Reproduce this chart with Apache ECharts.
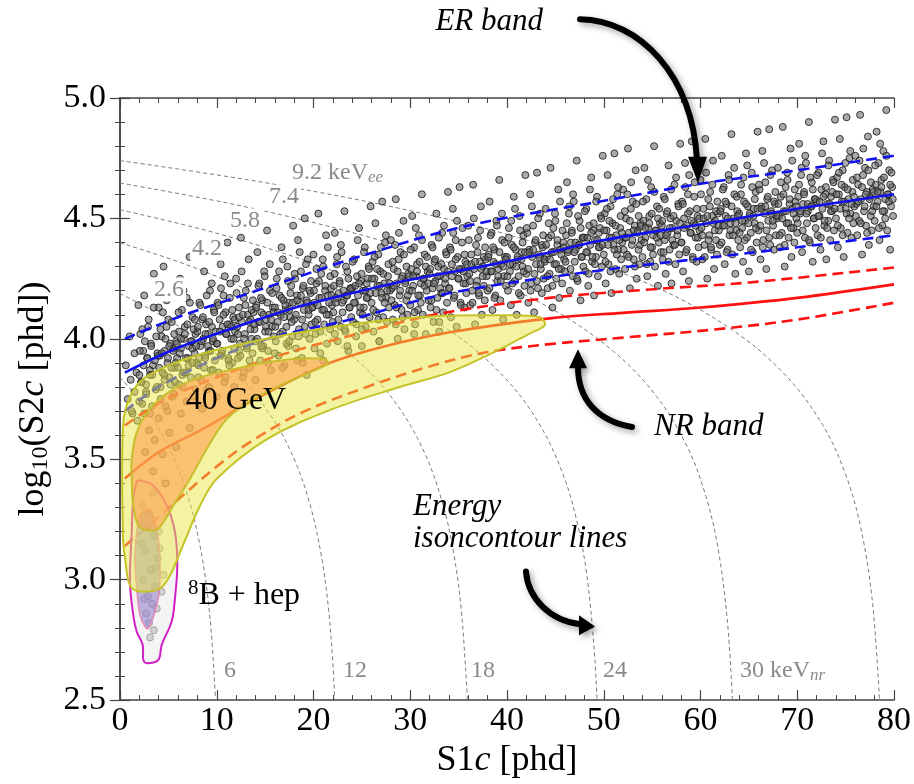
<!DOCTYPE html>
<html>
<head>
<meta charset="utf-8">
<script src="https://cdn.jsdelivr.net/npm/echarts@6/dist/echarts.min.js"></script>
<style>html,body{margin:0;padding:0;background:#fff}#chart{width:914px;height:784px}</style>
</head>
<body>
<div id="chart"></div>
<script>
// ---- ER calibration events: [S1c, log10(S2c)] ----
const erEvents = [
[0.6,3.89],[0.8,3.75],[1.0,4.01],[1.1,3.83],[1.3,3.69],[1.5,3.94],[1.7,3.86],[1.9,4.14],
[2.0,3.85],[2.1,4.02],[2.3,3.73],[2.4,3.95],[2.5,4.18],[2.7,3.81],[2.8,3.92],[2.9,4.05],[3.1,3.69],[3.2,3.98],[3.4,3.89],[3.5,4.27],[3.7,3.79],[3.9,3.93],
[4.0,4.13],[4.1,3.93],[4.2,3.80],[4.3,4.01],[4.4,3.86],[4.5,4.30],[4.6,3.95],[4.7,3.72],[4.8,4.05],[4.9,3.90],[5.0,4.08],[5.1,3.84],[5.2,3.98],[5.3,4.21],[5.4,3.76],[5.5,3.96],[5.6,3.88],[5.7,3.82],[5.8,3.99],[5.9,3.92],
[6.0,3.88],[6.1,4.03],[6.2,4.25],[6.3,3.96],[6.4,4.12],[6.5,3.80],[6.6,4.00],[6.7,4.05],[6.8,3.86],[6.9,4.17],[7.0,3.92],[7.1,3.97],[7.2,4.34],[7.3,3.84],[7.4,3.99],[7.5,4.09],[7.6,3.76],[7.7,3.94],[7.8,4.02],[7.9,3.90],
[8.0,4.03],[8.1,3.89],[8.2,4.15],[8.3,3.97],[8.4,3.83],[8.5,4.08],[8.6,4.00],[8.7,4.28],[8.8,3.93],[8.9,4.06],[9.0,3.79],[9.1,4.02],[9.2,3.95],[9.3,4.20],[9.4,3.87],[9.5,4.05],[9.6,3.99],[9.7,4.12],[9.8,3.91],[9.9,4.37],
[10.0,3.98],[10.1,4.15],[10.2,3.86],[10.3,4.08],[10.4,4.31],[10.5,3.94],[10.6,4.05],[10.7,4.18],[10.8,3.82],[10.9,4.11],[11.0,4.02],[11.1,4.40],[11.2,3.92],[11.3,4.06],[11.4,4.23],[11.5,4.00],[11.6,3.90],[11.7,4.09],[11.8,3.96],[11.9,4.03],
[12.0,4.25],[12.1,4.05],[12.2,3.92],[12.3,4.13],[12.4,3.98],[12.5,4.42],[12.6,4.07],[12.7,3.84],[12.8,4.17],[12.9,4.02],[13.0,4.20],[13.1,3.96],[13.2,4.10],[13.3,4.33],[13.4,3.88],[13.5,4.08],[13.6,4.00],[13.7,3.94],[13.8,4.11],[13.9,4.04],
[14.0,3.99],[14.1,4.14],[14.2,4.36],[14.3,4.07],[14.4,4.23],[14.5,3.91],[14.6,4.11],[14.7,4.16],[14.8,3.97],[14.9,4.28],[15.0,4.03],[15.1,4.08],[15.2,4.45],[15.3,3.95],[15.4,4.10],[15.5,4.20],[15.6,3.87],[15.7,4.05],[15.8,4.13],[15.9,4.01],
[16.0,4.13],[16.1,3.99],[16.2,4.25],[16.3,4.07],[16.4,3.93],[16.5,4.18],[16.6,4.10],[16.7,4.38],[16.8,4.03],[16.9,4.16],[17.0,3.89],[17.1,4.12],[17.2,4.05],[17.3,4.30],[17.4,3.97],[17.5,4.15],[17.6,4.09],[17.7,4.22],[17.8,4.01],[17.9,4.47],
[18.0,4.08],[18.1,4.25],[18.2,3.96],[18.3,4.18],[18.4,4.41],[18.5,4.04],[18.6,4.15],[18.7,4.28],[18.8,3.92],[18.9,4.21],[19.0,4.12],[19.1,4.50],[19.2,4.02],[19.3,4.16],[19.4,4.33],[19.5,4.10],[19.6,4.00],[19.7,4.19],[19.8,4.06],[19.9,4.13],
[20.0,4.35],[20.1,4.15],[20.2,4.02],[20.3,4.23],[20.4,4.08],[20.5,4.52],[20.6,4.17],[20.7,3.94],[20.8,4.27],[20.9,4.12],[21.0,4.30],[21.1,4.06],[21.2,4.20],[21.3,4.43],[21.4,3.98],[21.5,4.18],[21.6,4.10],[21.7,4.04],[21.8,4.21],[21.9,4.14],
[22.0,4.07],[22.1,4.22],[22.2,4.44],[22.3,4.15],[22.4,4.31],[22.5,3.99],[22.6,4.19],[22.7,4.24],[22.8,4.05],[22.9,4.36],[23.0,4.11],[23.1,4.16],[23.2,4.53],[23.3,4.03],[23.4,4.18],[23.5,4.28],[23.6,3.95],[23.7,4.13],[23.8,4.21],[23.9,4.09],
[24.0,4.21],[24.1,4.07],[24.2,4.33],[24.3,4.15],[24.4,4.01],[24.5,4.26],[24.6,4.18],[24.7,4.46],[24.8,4.11],[24.9,4.24],[25.0,3.97],[25.1,4.20],[25.2,4.13],[25.3,4.38],[25.4,4.05],[25.5,4.23],[25.6,4.17],[25.7,4.30],[25.8,4.09],[25.9,4.55],
[26.0,4.15],[26.1,4.32],[26.2,4.03],[26.3,4.25],[26.4,4.48],[26.5,4.11],[26.6,4.22],[26.7,4.35],[26.8,3.99],[26.9,4.28],[27.0,4.19],[27.1,4.57],[27.2,4.09],[27.3,4.23],[27.4,4.40],[27.5,4.17],[27.6,4.07],[27.7,4.26],[27.8,4.13],[27.9,4.20],
[28.0,4.41],[28.1,4.21],[28.2,4.08],[28.3,4.29],[28.4,4.14],[28.5,4.58],[28.6,4.23],[28.7,4.00],[28.8,4.33],[28.9,4.18],[29.0,4.36],[29.1,4.12],[29.2,4.26],[29.3,4.49],[29.4,4.04],[29.5,4.24],[29.6,4.16],[29.7,4.10],[29.8,4.27],[29.9,4.20],
[30.0,4.14],[30.1,4.29],[30.2,4.51],[30.3,4.22],[30.4,4.38],[30.5,4.06],[30.6,4.26],[30.7,4.31],[30.8,4.12],[30.9,4.43],[31.0,4.18],[31.1,4.23],[31.2,4.60],[31.3,4.10],[31.4,4.25],[31.5,4.35],[31.6,4.02],[31.7,4.20],[31.8,4.28],[31.9,4.16],
[32.0,4.27],[32.1,4.13],[32.2,4.39],[32.3,4.21],[32.4,4.07],[32.5,4.32],[32.6,4.24],[32.7,4.52],[32.8,4.17],[32.9,4.30],[33.0,4.03],[33.1,4.26],[33.2,4.19],[33.3,4.44],[33.4,4.11],[33.5,4.29],[33.6,4.23],[33.7,4.36],[33.8,4.15],[33.9,4.61],
[34.0,4.21],[34.1,4.38],[34.2,4.09],[34.3,4.31],[34.4,4.54],[34.5,4.17],[34.6,4.28],[34.7,4.41],[34.8,4.05],[34.9,4.34],[35.0,4.25],[35.1,4.63],[35.2,4.15],[35.3,4.29],[35.4,4.46],[35.5,4.23],[35.6,4.13],[35.7,4.32],[35.8,4.19],[35.9,4.26],
[36.0,4.47],[36.1,4.27],[36.2,4.14],[36.3,4.35],[36.4,4.20],[36.5,4.64],[36.6,4.29],[36.7,4.06],[36.8,4.39],[36.9,4.24],[37.0,4.42],[37.1,4.18],[37.2,4.32],[37.3,4.55],[37.4,4.10],[37.5,4.30],[37.6,4.22],[37.7,4.16],[37.8,4.33],[37.9,4.26],
[38.0,4.20],[38.1,4.35],[38.2,4.57],[38.3,4.28],[38.4,4.44],[38.5,4.12],[38.6,4.32],[38.7,4.37],[38.8,4.18],[38.9,4.49],[39.0,4.24],[39.1,4.29],[39.2,4.66],[39.3,4.16],[39.4,4.31],[39.5,4.41],[39.6,4.08],[39.7,4.26],[39.8,4.34],[39.9,4.22],
[40.0,4.34],[40.1,4.20],[40.2,4.46],[40.3,4.28],[40.4,4.14],[40.5,4.39],[40.6,4.31],[40.7,4.59],[40.8,4.24],[40.9,4.37],[41.0,4.10],[41.1,4.33],[41.2,4.26],[41.3,4.51],[41.4,4.18],[41.5,4.36],[41.6,4.30],[41.7,4.43],[41.8,4.22],[41.9,4.68],
[42.0,4.27],[42.1,4.44],[42.2,4.15],[42.3,4.37],[42.4,4.60],[42.5,4.23],[42.6,4.34],[42.7,4.47],[42.8,4.11],[42.9,4.40],[43.0,4.31],[43.1,4.69],[43.2,4.21],[43.3,4.35],[43.4,4.52],[43.5,4.29],[43.6,4.19],[43.7,4.38],[43.8,4.25],[43.9,4.32],
[44.0,4.54],[44.1,4.34],[44.2,4.21],[44.3,4.42],[44.4,4.27],[44.5,4.71],[44.6,4.36],[44.7,4.13],[44.8,4.46],[44.9,4.31],[45.0,4.49],[45.1,4.25],[45.2,4.39],[45.3,4.62],[45.4,4.17],[45.5,4.37],[45.6,4.29],[45.7,4.23],[45.8,4.40],[45.9,4.33],
[46.0,4.28],[46.1,4.43],[46.2,4.65],[46.3,4.36],[46.4,4.52],[46.5,4.20],[46.6,4.40],[46.7,4.45],[46.8,4.26],[46.9,4.57],[47.0,4.32],[47.1,4.37],[47.2,4.74],[47.3,4.24],[47.4,4.39],[47.5,4.49],[47.6,4.16],[47.7,4.34],[47.8,4.42],[47.9,4.30],
[48.0,4.42],[48.1,4.28],[48.2,4.54],[48.3,4.36],[48.4,4.22],[48.5,4.47],[48.6,4.39],[48.7,4.67],[48.8,4.32],[48.9,4.45],[49.0,4.18],[49.1,4.41],[49.2,4.34],[49.3,4.59],[49.4,4.26],[49.5,4.44],[49.6,4.38],[49.7,4.51],[49.8,4.30],[49.9,4.76],
[50.0,4.35],[50.1,4.52],[50.2,4.23],[50.3,4.45],[50.4,4.68],[50.5,4.31],[50.6,4.42],[50.7,4.55],[50.8,4.19],[50.9,4.48],[51.0,4.39],[51.1,4.77],[51.2,4.29],[51.3,4.43],[51.4,4.60],[51.5,4.37],[51.6,4.27],[51.7,4.46],[51.8,4.33],[51.9,4.40],
[52.0,4.62],[52.1,4.42],[52.2,4.29],[52.3,4.50],[52.4,4.35],[52.5,4.79],[52.6,4.44],[52.7,4.21],[52.8,4.54],[52.9,4.39],[53.0,4.57],[53.1,4.33],[53.2,4.47],[53.3,4.70],[53.4,4.25],[53.5,4.45],[53.6,4.37],[53.7,4.31],[53.8,4.48],[53.9,4.41],
[54.0,4.34],[54.1,4.49],[54.2,4.71],[54.3,4.42],[54.4,4.58],[54.5,4.26],[54.6,4.46],[54.7,4.51],[54.8,4.32],[54.9,4.63],[55.0,4.38],[55.1,4.43],[55.2,4.80],[55.3,4.30],[55.4,4.45],[55.5,4.55],[55.6,4.22],[55.7,4.40],[55.8,4.48],[55.9,4.36],
[56.0,4.47],[56.1,4.33],[56.2,4.59],[56.3,4.41],[56.4,4.27],[56.5,4.52],[56.6,4.44],[56.7,4.72],[56.8,4.37],[56.9,4.50],[57.0,4.23],[57.1,4.46],[57.2,4.39],[57.3,4.64],[57.4,4.31],[57.5,4.49],[57.6,4.43],[57.7,4.56],[57.8,4.35],[57.9,4.81],
[58.0,4.40],[58.1,4.57],[58.2,4.28],[58.3,4.50],[58.4,4.73],[58.5,4.36],[58.6,4.47],[58.7,4.60],[58.8,4.24],[58.9,4.53],[59.0,4.44],[59.1,4.82],[59.2,4.34],[59.3,4.48],[59.4,4.65],[59.5,4.42],[59.6,4.32],[59.7,4.51],[59.8,4.38],[59.9,4.45],
[60.0,4.66],[60.1,4.46],[60.2,4.33],[60.3,4.54],[60.4,4.39],[60.5,4.83],[60.6,4.48],[60.7,4.25],[60.8,4.58],[60.9,4.43],[61.0,4.61],[61.1,4.37],[61.2,4.51],[61.3,4.74],[61.4,4.29],[61.5,4.49],[61.6,4.41],[61.7,4.35],[61.8,4.52],[61.9,4.45],
[62.0,4.39],[62.1,4.54],[62.2,4.76],[62.3,4.47],[62.4,4.63],[62.5,4.31],[62.6,4.51],[62.7,4.56],[62.8,4.37],[62.9,4.68],[63.0,4.43],[63.1,4.48],[63.2,4.85],[63.3,4.35],[63.4,4.50],[63.5,4.60],[63.6,4.27],[63.7,4.45],[63.8,4.53],[63.9,4.41],
[64.0,4.52],[64.1,4.38],[64.2,4.64],[64.3,4.46],[64.4,4.32],[64.5,4.57],[64.6,4.49],[64.7,4.77],[64.8,4.42],[64.9,4.55],[65.0,4.28],[65.1,4.51],[65.2,4.44],[65.3,4.69],[65.4,4.36],[65.5,4.54],[65.6,4.48],[65.7,4.61],[65.8,4.40],[65.9,4.86],
[66.0,4.45],[66.1,4.62],[66.2,4.33],[66.3,4.55],[66.4,4.78],[66.5,4.41],[66.6,4.52],[66.7,4.65],[66.8,4.29],[66.9,4.58],[67.0,4.49],[67.1,4.87],[67.2,4.39],[67.3,4.53],[67.4,4.70],[67.5,4.47],[67.6,4.37],[67.7,4.56],[67.8,4.43],[67.9,4.50],
[68.0,4.71],[68.1,4.51],[68.2,4.38],[68.3,4.59],[68.4,4.44],[68.5,4.88],[68.6,4.53],[68.7,4.30],[68.8,4.63],[68.9,4.48],[69.0,4.66],[69.1,4.42],[69.2,4.56],[69.3,4.79],[69.4,4.34],[69.5,4.54],[69.6,4.46],[69.7,4.40],[69.8,4.57],[69.9,4.50],
[70.0,4.44],[70.1,4.59],[70.2,4.81],[70.3,4.52],[70.4,4.68],[70.5,4.36],[70.6,4.56],[70.7,4.61],[70.8,4.42],[70.9,4.73],[71.0,4.48],[71.1,4.53],[71.2,4.90],[71.3,4.40],[71.4,4.55],[71.5,4.65],[71.6,4.32],[71.7,4.50],[71.8,4.58],[71.9,4.46],
[72.0,4.57],[72.1,4.43],[72.2,4.69],[72.3,4.51],[72.4,4.37],[72.5,4.62],[72.6,4.54],[72.7,4.82],[72.8,4.47],[72.9,4.60],[73.0,4.33],[73.1,4.56],[73.2,4.49],[73.3,4.74],[73.4,4.41],[73.5,4.59],[73.6,4.53],[73.7,4.66],[73.8,4.45],[73.9,4.91],
[74.0,4.50],[74.1,4.67],[74.2,4.38],[74.3,4.60],[74.4,4.83],[74.5,4.46],[74.6,4.57],[74.7,4.70],[74.8,4.34],[74.9,4.63],[75.0,4.54],[75.1,4.92],[75.2,4.44],[75.3,4.58],[75.4,4.75],[75.5,4.52],[75.6,4.42],[75.7,4.61],[75.8,4.48],[75.9,4.55],
[76.0,4.76],[76.1,4.56],[76.2,4.43],[76.3,4.64],[76.4,4.49],[76.5,4.93],[76.6,4.58],[76.7,4.35],[76.8,4.68],[76.9,4.53],[77.0,4.71],[77.1,4.47],[77.2,4.61],[77.3,4.84],[77.4,4.39],[77.5,4.59],[77.6,4.51],[77.7,4.45],[77.8,4.62],[77.9,4.55],
[78.0,4.49],[78.1,4.64],[78.2,4.86],[78.3,4.57],[78.4,4.73],[78.5,4.41],[78.6,4.61],[78.7,4.66],[78.8,4.47],[78.9,4.78],[79.0,4.53],[79.1,4.58],[79.2,4.95],[79.3,4.45],[79.4,4.60],[79.5,4.70],[79.6,4.37],[79.7,4.55],[79.8,4.63],[79.9,4.51]
];

// ---- ER events in the dense core of the band ----
const erCoreEvents = [
[2.05,3.95],[2.18,3.82],[2.31,4.04],[2.44,3.89],[2.57,3.99],[2.70,3.78],[2.83,3.92],[2.96,4.08],[3.09,3.87],[3.22,3.97],[3.35,3.85],[3.48,4.13],[3.61,3.91],[3.74,4.01],[3.87,3.94],
[4.05,3.88],[4.18,4.04],[4.31,3.94],[4.44,4.11],[4.57,3.85],[4.70,4.00],[4.83,4.16],[4.96,3.92],[5.09,3.97],[5.22,3.81],[5.35,4.07],[5.48,3.95],[5.61,4.02],[5.74,3.90],[5.87,3.98],
[6.05,4.11],[6.18,3.94],[6.31,4.00],[6.44,3.85],[6.57,4.20],[6.70,4.02],[6.83,3.92],[6.96,4.06],[7.09,3.89],[7.22,4.15],[7.35,3.99],[7.48,3.96],[7.61,4.04],[7.74,4.08],[7.87,3.97],
[8.05,4.05],[8.18,3.92],[8.31,4.14],[8.44,3.99],[8.57,4.09],[8.70,3.88],[8.83,4.02],[8.96,4.18],[9.09,3.97],[9.22,4.07],[9.35,3.95],[9.48,4.23],[9.61,4.00],[9.74,4.11],[9.87,4.03],
[10.05,3.98],[10.18,4.14],[10.31,4.03],[10.44,4.21],[10.57,3.95],[10.70,4.10],[10.83,4.26],[10.96,4.02],[11.09,4.06],[11.22,3.91],[11.35,4.17],[11.48,4.05],[11.61,4.12],[11.74,4.00],[11.87,4.08],
[12.05,4.19],[12.18,4.02],[12.31,4.09],[12.44,3.93],[12.57,4.28],[12.70,4.10],[12.83,4.00],[12.96,4.14],[13.09,3.97],[13.22,4.23],[13.35,4.07],[13.48,4.04],[13.61,4.12],[13.74,4.16],[13.87,4.06],
[14.05,4.13],[14.18,4.00],[14.31,4.22],[14.44,4.07],[14.57,4.17],[14.70,3.96],[14.83,4.10],[14.96,4.26],[15.09,4.05],[15.22,4.15],[15.35,4.03],[15.48,4.31],[15.61,4.08],[15.74,4.19],[15.87,4.11],
[16.05,4.05],[16.18,4.21],[16.31,4.11],[16.44,4.28],[16.57,4.02],[16.70,4.17],[16.83,4.33],[16.96,4.09],[17.09,4.14],[17.22,3.98],[17.35,4.24],[17.48,4.12],[17.61,4.19],[17.74,4.07],[17.87,4.15],
[18.05,4.27],[18.18,4.10],[18.31,4.16],[18.44,4.01],[18.57,4.36],[18.70,4.18],[18.83,4.08],[18.96,4.22],[19.09,4.05],[19.22,4.31],[19.35,4.15],[19.48,4.12],[19.61,4.20],[19.74,4.24],[19.87,4.13],
[20.05,4.20],[20.18,4.07],[20.31,4.29],[20.44,4.14],[20.57,4.24],[20.70,4.03],[20.83,4.17],[20.96,4.33],[21.09,4.12],[21.22,4.22],[21.35,4.10],[21.48,4.38],[21.61,4.15],[21.74,4.26],[21.87,4.18],
[22.05,4.11],[22.18,4.27],[22.31,4.17],[22.44,4.34],[22.57,4.08],[22.70,4.23],[22.83,4.39],[22.96,4.15],[23.09,4.20],[23.22,4.04],[23.35,4.30],[23.48,4.18],[23.61,4.25],[23.74,4.13],[23.87,4.21],
[24.05,4.32],[24.18,4.15],[24.31,4.22],[24.44,4.06],[24.57,4.41],[24.70,4.23],[24.83,4.13],[24.96,4.27],[25.09,4.10],[25.22,4.36],[25.35,4.20],[25.48,4.17],[25.61,4.25],[25.74,4.29],[25.87,4.19],
[26.05,4.25],[26.18,4.12],[26.31,4.34],[26.44,4.19],[26.57,4.29],[26.70,4.08],[26.83,4.22],[26.96,4.38],[27.09,4.17],[27.22,4.27],[27.35,4.15],[27.48,4.43],[27.61,4.20],[27.74,4.31],[27.87,4.23],
[28.05,4.16],[28.18,4.32],[28.31,4.22],[28.44,4.39],[28.57,4.13],[28.70,4.28],[28.83,4.44],[28.96,4.20],[29.09,4.25],[29.22,4.09],[29.35,4.35],[29.48,4.23],[29.61,4.30],[29.74,4.18],[29.87,4.26],
[30.05,4.37],[30.18,4.20],[30.31,4.26],[30.44,4.11],[30.57,4.46],[30.70,4.28],[30.83,4.18],[30.96,4.32],[31.09,4.15],[31.22,4.41],[31.35,4.25],[31.48,4.22],[31.61,4.30],[31.74,4.34],[31.87,4.23],
[32.05,4.29],[32.18,4.16],[32.31,4.38],[32.44,4.23],[32.57,4.33],[32.70,4.12],[32.83,4.26],[32.96,4.42],[33.09,4.21],[33.22,4.31],[33.35,4.19],[33.48,4.47],[33.61,4.25],[33.74,4.35],[33.87,4.28],
[34.05,4.21],[34.18,4.37],[34.31,4.26],[34.44,4.44],[34.57,4.18],[34.70,4.33],[34.83,4.49],[34.96,4.25],[35.09,4.29],[35.22,4.14],[35.35,4.40],[35.48,4.28],[35.61,4.35],[35.74,4.23],[35.87,4.31],
[36.05,4.41],[36.18,4.24],[36.31,4.31],[36.44,4.15],[36.57,4.50],[36.70,4.32],[36.83,4.22],[36.96,4.36],[37.09,4.19],[37.22,4.45],[37.35,4.29],[37.48,4.26],[37.61,4.34],[37.74,4.38],[37.87,4.28],
[38.05,4.34],[38.18,4.21],[38.31,4.43],[38.44,4.28],[38.57,4.38],[38.70,4.17],[38.83,4.31],[38.96,4.47],[39.09,4.26],[39.22,4.36],[39.35,4.24],[39.48,4.52],[39.61,4.30],[39.74,4.40],[39.87,4.33],
[40.05,4.26],[40.18,4.42],[40.31,4.31],[40.44,4.49],[40.57,4.23],[40.70,4.38],[40.83,4.54],[40.96,4.30],[41.09,4.34],[41.22,4.19],[41.35,4.45],[41.48,4.33],[41.61,4.40],[41.74,4.28],[41.87,4.36],
[42.05,4.46],[42.18,4.29],[42.31,4.36],[42.44,4.20],[42.57,4.55],[42.70,4.37],[42.83,4.27],[42.96,4.41],[43.09,4.24],[43.22,4.50],[43.35,4.34],[43.48,4.31],[43.61,4.39],[43.74,4.43],[43.87,4.33],
[44.05,4.39],[44.18,4.26],[44.31,4.48],[44.44,4.33],[44.57,4.43],[44.70,4.22],[44.83,4.36],[44.96,4.52],[45.09,4.31],[45.22,4.41],[45.35,4.29],[45.48,4.57],[45.61,4.35],[45.74,4.45],[45.87,4.38],
[46.05,4.32],[46.18,4.48],[46.31,4.37],[46.44,4.55],[46.57,4.29],[46.70,4.44],[46.83,4.60],[46.96,4.36],[47.09,4.40],[47.22,4.25],[47.35,4.51],[47.48,4.39],[47.61,4.46],[47.74,4.34],[47.87,4.42],
[48.05,4.53],[48.18,4.36],[48.31,4.42],[48.44,4.27],[48.57,4.62],[48.70,4.44],[48.83,4.34],[48.96,4.48],[49.09,4.31],[49.22,4.57],[49.35,4.41],[49.48,4.38],[49.61,4.46],[49.74,4.50],[49.87,4.39],
[50.05,4.45],[50.18,4.32],[50.31,4.54],[50.44,4.39],[50.57,4.49],[50.70,4.28],[50.83,4.42],[50.96,4.58],[51.09,4.37],[51.22,4.47],[51.35,4.35],[51.48,4.63],[51.61,4.41],[51.74,4.51],[51.87,4.44],
[52.05,4.37],[52.18,4.53],[52.31,4.42],[52.44,4.60],[52.57,4.34],[52.70,4.49],[52.83,4.65],[52.96,4.41],[53.09,4.45],[53.22,4.30],[53.35,4.56],[53.48,4.44],[53.61,4.51],[53.74,4.39],[53.87,4.47],
[54.05,4.57],[54.18,4.40],[54.31,4.46],[54.44,4.31],[54.57,4.66],[54.70,4.48],[54.83,4.38],[54.96,4.52],[55.09,4.35],[55.22,4.61],[55.35,4.45],[55.48,4.42],[55.61,4.50],[55.74,4.54],[55.87,4.43],
[56.05,4.49],[56.18,4.36],[56.31,4.58],[56.44,4.43],[56.57,4.53],[56.70,4.32],[56.83,4.46],[56.96,4.62],[57.09,4.41],[57.22,4.51],[57.35,4.39],[57.48,4.67],[57.61,4.45],[57.74,4.55],[57.87,4.48],
[58.05,4.40],[58.18,4.56],[58.31,4.46],[58.44,4.63],[58.57,4.37],[58.70,4.52],[58.83,4.68],[58.96,4.44],[59.09,4.49],[59.22,4.33],[59.35,4.59],[59.48,4.47],[59.61,4.54],[59.74,4.42],[59.87,4.50],
[60.05,4.60],[60.18,4.43],[60.31,4.50],[60.44,4.34],[60.57,4.69],[60.70,4.51],[60.83,4.41],[60.96,4.55],[61.09,4.38],[61.22,4.64],[61.35,4.48],[61.48,4.45],[61.61,4.53],[61.74,4.57],[61.87,4.47],
[62.05,4.53],[62.18,4.40],[62.31,4.62],[62.44,4.47],[62.57,4.57],[62.70,4.36],[62.83,4.50],[62.96,4.66],[63.09,4.45],[63.22,4.55],[63.35,4.43],[63.48,4.71],[63.61,4.48],[63.74,4.59],[63.87,4.51],
[64.05,4.44],[64.18,4.60],[64.31,4.49],[64.44,4.67],[64.57,4.41],[64.70,4.56],[64.83,4.72],[64.96,4.48],[65.09,4.52],[65.22,4.37],[65.35,4.63],[65.48,4.51],[65.61,4.58],[65.74,4.46],[65.87,4.54],
[66.05,4.64],[66.18,4.47],[66.31,4.54],[66.44,4.38],[66.57,4.73],[66.70,4.55],[66.83,4.45],[66.96,4.59],[67.09,4.42],[67.22,4.68],[67.35,4.52],[67.48,4.49],[67.61,4.57],[67.74,4.61],[67.87,4.51],
[68.05,4.56],[68.18,4.43],[68.31,4.65],[68.44,4.50],[68.57,4.60],[68.70,4.39],[68.83,4.53],[68.96,4.69],[69.09,4.48],[69.22,4.58],[69.35,4.46],[69.48,4.74],[69.61,4.52],[69.74,4.62],[69.87,4.55],
[70.05,4.48],[70.18,4.64],[70.31,4.53],[70.44,4.71],[70.57,4.45],[70.70,4.60],[70.83,4.76],[70.96,4.52],[71.09,4.56],[71.22,4.41],[71.35,4.67],[71.48,4.55],[71.61,4.62],[71.74,4.50],[71.87,4.58],
[72.05,4.68],[72.18,4.51],[72.31,4.57],[72.44,4.42],[72.57,4.77],[72.70,4.59],[72.83,4.49],[72.96,4.63],[73.09,4.46],[73.22,4.72],[73.35,4.56],[73.48,4.53],[73.61,4.61],[73.74,4.65],[73.87,4.54],
[74.05,4.60],[74.18,4.47],[74.31,4.69],[74.44,4.54],[74.57,4.64],[74.70,4.43],[74.83,4.57],[74.96,4.73],[75.09,4.52],[75.22,4.62],[75.35,4.50],[75.48,4.78],[75.61,4.56],[75.74,4.66],[75.87,4.59],
[76.05,4.51],[76.18,4.67],[76.31,4.57],[76.44,4.74],[76.57,4.48],[76.70,4.63],[76.83,4.79],[76.96,4.55],[77.09,4.60],[77.22,4.44],[77.35,4.70],[77.48,4.58],[77.61,4.65],[77.74,4.53],[77.87,4.61],
[78.05,4.72],[78.18,4.55],[78.31,4.61],[78.44,4.46],[78.57,4.81],[78.70,4.63],[78.83,4.53],[78.96,4.67],[79.09,4.50],[79.22,4.76],[79.35,4.60],[79.48,4.57],[79.61,4.64],[79.74,4.69],[79.87,4.58]
];

// ---- events inside the 40 GeV WIMP region ----
const wimpEvents = [
[1.2,3.70],[1.5,3.78],[1.8,3.66],[2.0,3.74],[2.2,3.82],[2.5,3.69],[2.7,3.77],[3.0,3.62],[3.1,3.85],[3.3,3.72],
[3.6,3.58],[3.8,3.80],[4.0,3.67],[4.2,3.75],[4.4,3.52],[4.6,3.83],[4.9,3.70],[5.1,3.61],[5.3,3.88],[5.6,3.77],
[5.8,3.55],[6.1,3.81],[6.3,3.69],[6.6,3.86],[6.9,3.74],[7.2,3.63],[7.5,3.90],[7.8,3.79],[8.1,3.84],[8.5,3.71],
[8.8,3.92],[9.2,3.80],[9.6,3.87],[10.0,3.76],[10.4,3.93],[10.9,3.84],[11.3,3.89],[11.8,3.80],[12.3,3.95],[12.8,3.86],
[13.4,3.91],[14.0,3.83],[14.6,3.97],[15.3,3.90],[16.0,3.94],[16.8,3.88],[17.5,3.99],[18.3,3.91],[18.9,3.90],[19.3,3.85],
[20.1,3.96],[21.0,3.91],[22.2,4.02],[23.5,3.97],[25.0,4.04],[26.8,3.99],[28.5,4.06],[30.4,4.02],[33.0,4.07],[3.4,3.45],
[2.6,3.53],[4.7,3.40],[2.9,3.28]
];

// ---- events inside the 8B + hep region ----
const b8Events = [
[2.3,3.31],[2.8,3.22],[3.1,3.27],[3.5,3.18],[2.6,3.12],[3.9,3.09],[3.2,3.04],[2.4,3.00],[3.6,2.97],[4.1,3.13],
[2.9,2.93],[3.3,2.90],[3.8,2.88],[2.7,2.86],[4.3,2.95],[3.0,2.82],[3.5,2.79],[3.4,3.36],[4.0,3.20],[2.2,3.15],
[3.7,3.05],[4.5,3.02],[2.5,2.92],[3.1,2.76]
];

// ---- ER band: median and 10%/90% ----
const erMedian = [[0.5,3.86],[5.5,3.955],[11.7,4.045],[18.6,4.135],[24,4.19],[30,4.245],[38,4.305],[44,4.355],[50,4.41],[60,4.475],[70,4.54],[80,4.60]];
const erUpper  = [[0.5,4.00],[6,4.09],[13.4,4.19],[18.6,4.26],[25,4.345],[35.5,4.466],[49.6,4.57],[60,4.644],[70,4.70],[80,4.76]];
const erLower  = [[0.5,3.70],[4.8,3.82],[14.5,3.99],[23.8,4.08],[34.1,4.19],[49.6,4.284],[60,4.333],[70,4.38],[80,4.43]];

// ---- NR band: median and 10%/90% ----
const nrMedian = [[0.5,3.42],[4,3.53],[8.3,3.62],[14,3.75],[21.4,3.895],[27,3.965],[34.1,4.027],[44.4,4.085],[52,4.108],[60,4.13],[70,4.17],[80,4.226]];
const nrUpper  = [[0.5,3.64],[4.8,3.75],[11.7,3.866],[18.6,3.957],[25.5,4.03],[32.4,4.10],[44.4,4.17],[54.8,4.205],[65,4.234],[80,4.296]];
const nrLower  = [[0.5,3.14],[3.1,3.23],[6.5,3.35],[10,3.47],[13.4,3.57],[18.6,3.69],[25.5,3.80],[32.4,3.89],[38,3.945],[44.4,3.978],[52,4.005],[61.7,4.04],[70,4.08],[80,4.15]];

// ---- energy iso-contours (keVnr at the bottom / keVee at the left) ----
const iso6  = [[0,3.84],[2.07,3.743],[4.14,3.618],[5.69,3.493],[7.24,3.317],[8.27,3.141],[9.0,2.954],[9.51,2.743],[9.82,2.539],[9.87,2.5]];
const iso12 = [[0,4.188],[4.53,4.091],[9.06,3.966],[12.46,3.841],[15.86,3.665],[18.13,3.489],[19.71,3.302],[20.85,3.091],[21.53,2.887],[21.98,2.665],[22.2,2.5]];
const iso18 = [[0,4.399],[7.27,4.302],[14.54,4.177],[20.0,4.052],[25.45,3.876],[29.09,3.70],[31.63,3.513],[33.45,3.302],[34.54,3.098],[35.27,2.876],[35.81,2.575],[35.9,2.5]];
const iso24 = [[0,4.536],[9.95,4.439],[19.9,4.314],[27.37,4.189],[34.83,4.013],[39.81,3.837],[43.29,3.65],[45.78,3.439],[47.27,3.235],[48.27,3.013],[49.01,2.712],[49.3,2.5]];
const iso30 = [[0,4.647],[12.75,4.55],[25.5,4.425],[35.06,4.30],[44.63,4.124],[51.0,3.948],[55.46,3.761],[58.65,3.55],[60.56,3.346],[61.84,3.124],[62.79,2.823],[63.3,2.5]];
const iso36 = [[0,4.74],[15.79,4.643],[31.57,4.518],[43.41,4.393],[55.25,4.217],[63.14,4.041],[68.67,3.854],[72.62,3.643],[74.98,3.439],[76.56,3.217],[77.75,2.916],[78.5,2.5]];

// ---- signal region contours ----
const wimpOuter = [[0.31,3.64],[1.03,3.76],[2.38,3.833],[4.86,3.887],[8.27,3.936],[13.4,3.986],[18.6,4.027],[25.5,4.069],[32.4,4.094],[39.3,4.098],[43.4,4.09],[43.9,4.056],[42.4,4.023],[41.3,4.0],[39.3,3.957],[34.1,3.862],[28.9,3.80],[22.0,3.709],[15.2,3.584],[10.0,3.419],[8.27,3.307],[6.5,3.142],[5.17,3.017],[4.13,2.964],[2.07,2.951],[1.03,2.976],[0.52,3.088],[0.31,3.17]];
const wimpInner = [[1.21,3.502],[1.73,3.612],[3.10,3.709],[5.51,3.791],[8.27,3.840],[11.71,3.874],[15.16,3.902],[18.60,3.918],[21.01,3.916],[21.53,3.899],[19.98,3.867],[17.23,3.819],[13.78,3.750],[11.03,3.667],[8.96,3.543],[7.24,3.419],[5.51,3.308],[3.96,3.212],[2.76,3.205],[1.89,3.226],[1.37,3.308],[1.21,3.419]];
const b8Outer = [[2.07,3.412],[3.44,3.391],[4.83,3.308],[5.68,3.198],[5.92,3.060],[5.68,2.922],[5.34,2.826],[4.31,2.729],[3.96,2.667],[2.76,2.653],[2.41,2.667],[2.35,2.729],[1.73,2.784],[1.37,2.853],[1.03,2.991],[1.21,3.198],[1.37,3.336],[1.73,3.405]];
const b8Inner = [[2.76,3.288],[3.44,3.267],[3.96,3.171],[4.13,3.060],[4.06,2.950],[3.62,2.867],[2.93,2.798],[2.58,2.805],[2.07,2.853],[1.73,2.964],[1.55,3.088],[1.73,3.198],[2.07,3.267]];

// ---- text annotations ----
const isoLabelsEE = [
  { at: [17.57, 4.69], text: '9.2 keV{sub|ee}' },
  { at: [15.19, 4.59], text: '7.4' },
  { at: [11.16, 4.491], text: '5.8' },
  { at: [7.24, 4.375], text: '4.2' },
  { at: [3.31, 4.205], text: '2.6' }
];
const isoLabelsNR = [
  { at: [10.75, 2.624], text: '6' },
  { at: [23.05, 2.624], text: '12' },
  { at: [36.28, 2.624], text: '18' },
  { at: [49.92, 2.624], text: '24' },
  { at: [64.08, 2.624], text: '30 keV{sub|nr}' }
];
const notes = [
  { at: [6.8, 3.742], text: '40 GeV', style: 'plain' },
  { at: [7.03, 2.935], text: '{sup|8}B + hep', style: 'plain' },
  { at: [32.6, 5.315], text: 'ER band', style: 'it' },
  { at: [55.2, 3.634], text: 'NR band', style: 'it' },
  { at: [30.28, 3.303], text: 'Energy', style: 'it' },
  { at: [30.28, 3.17], text: 'isoncontour lines', style: 'it' }
];
// curved arrows: [start, control1, control2, end], head [tip, baseA, baseB]
const arrows = [
  { path: [[47.55,5.327],[53.75,5.323],[59.12,5.095],[59.64,4.743]], head: [[59.74,4.648],[58.71,4.756],[60.67,4.756]] },
  { path: [[52.92,3.634],[49.30,3.659],[47.34,3.750],[47.34,3.882]], head: [[47.34,3.957],[46.41,3.878],[48.27,3.878]] },
  { path: [[41.96,3.034],[42.17,2.922],[44.44,2.831],[47.55,2.815]], head: [[49.10,2.806],[47.44,2.852],[47.44,2.769]] }
];

const SERIF = 'Liberation Serif';
const GRAY = '#8a8a8a';

function polygon(verts, fill, stroke, lw, z) {
  return {
    type: 'custom', z, silent: true, data: [[verts[0][0], verts[0][1]]],
    renderItem: (params, api) => ({
      type: 'polygon',
      shape: { points: verts.map(v => api.coord(v)), smooth: 0.35 },
      style: { fill, stroke, lineWidth: lw }
    })
  };
}
function curve(data, color, width, dashed, z) {
  return {
    type: 'line', data, z, smooth: 0.35, showSymbol: false, symbol: 'none', silent: true,
    lineStyle: { color, width, type: dashed ? dashed : 'solid' }
  };
}
function events(data, z) {
  return {
    type: 'scatter', data, z, symbolSize: 7, silent: true, progressive: 0, large: false,
    itemStyle: { color: 'rgba(100,100,100,0.55)', borderColor: 'rgba(28,28,28,0.85)', borderWidth: 1, opacity: 1 }
  };
}
function labels(list, textStyle, rich, z) {
  return {
    type: 'scatter', z, symbolSize: 0, silent: true, clip: false,
    itemStyle: { opacity: 1 },
    data: list.map(l => ({ value: l.at, label: { formatter: l.text } })),
    label: Object.assign({ show: true, position: 'right', distance: 0, rich }, textStyle)
  };
}

const tickStyle = { show: true, inside: true, length: 10, lineStyle: { color: '#444', width: 1.2 } };
const minorStyle = { show: true, splitNumber: 5, length: 5, lineStyle: { color: '#444', width: 1 } };
const lineStyleAx = { show: true, lineStyle: { color: '#444', width: 1.5 } };
const tickFont = { fontFamily: SERIF, fontSize: 34, color: '#000' };

const option = {
  animation: false,
  backgroundColor: '#fff',
  grid: { left: 120, right: 20, top: 98, bottom: 82 },
  xAxis: [
    { type: 'value', min: 0, max: 80, interval: 10, position: 'bottom',
      axisLine: lineStyleAx, axisTick: tickStyle, minorTick: minorStyle, splitLine: { show: false },
      axisLabel: Object.assign({ margin: 4 }, tickFont),
      name: 'S1{it|c} [phd]', nameLocation: 'middle', nameGap: 36,
      nameTextStyle: { fontFamily: SERIF, fontSize: 36, color: '#000',
        rich: { it: { fontFamily: SERIF, fontSize: 36, fontStyle: 'italic', color: '#000' } } } },
    { type: 'value', min: 0, max: 80, interval: 10, position: 'top',
      axisLine: lineStyleAx, axisTick: tickStyle, minorTick: minorStyle, splitLine: { show: false },
      axisLabel: { show: false } }
  ],
  yAxis: [
    { type: 'value', min: 2.5, max: 5, interval: 0.5, position: 'left',
      axisLine: lineStyleAx, axisTick: tickStyle, minorTick: minorStyle, splitLine: { show: false },
      axisLabel: Object.assign({ margin: 14, formatter: v => v.toFixed(1) }, tickFont),
      name: 'log{sub|10}(S2{it|c} [phd])', nameLocation: 'middle', nameGap: 66, nameRotate: 90,
      nameTextStyle: { fontFamily: SERIF, fontSize: 36, color: '#000',
        rich: {
          it: { fontFamily: SERIF, fontSize: 36, fontStyle: 'italic', color: '#000' },
          sub: { fontFamily: SERIF, fontSize: 24, color: '#000', padding: [14, 0, 0, 0] }
        } } },
    { type: 'value', min: 2.5, max: 5, interval: 0.5, position: 'right',
      axisLine: lineStyleAx, axisTick: tickStyle, minorTick: minorStyle, splitLine: { show: false },
      axisLabel: { show: false } }
  ],
  series: [
    curve(iso6, '#7a7a7a', 1, [4, 3], 1),
    curve(iso12, '#7a7a7a', 1, [4, 3], 1),
    curve(iso18, '#7a7a7a', 1, [4, 3], 1),
    curve(iso24, '#7a7a7a', 1, [4, 3], 1),
    curve(iso30, '#7a7a7a', 1, [4, 3], 1),
    curve(iso36, '#7a7a7a', 1, [4, 3], 1),
    events(erEvents, 2),
    events(erCoreEvents, 2),
    events(wimpEvents, 2),
    events(b8Events, 2),
    curve(erMedian, '#1010f0', 2.6, null, 3),
    curve(erUpper, '#1010f0', 2.6, [11, 6], 3),
    curve(erLower, '#1010f0', 2.6, [11, 6], 3),
    curve(nrMedian, '#ff1010', 2.6, null, 3),
    curve(nrUpper, '#ff1010', 2.6, [11, 6], 3),
    curve(nrLower, '#ff1010', 2.6, [11, 6], 3),
    polygon(b8Outer, 'rgba(236,236,236,0.6)', '#d21ec6', 2, 4),
    polygon(b8Inner, 'rgba(150,130,205,0.6)', '#e58ab8', 1.5, 5),
    polygon(wimpOuter, 'rgba(232,232,70,0.5)', 'rgb(196,196,40)', 2, 6),
    polygon(wimpInner, 'rgba(255,160,80,0.6)', 'rgb(200,190,45)', 2, 7),
    labels(isoLabelsEE, { fontFamily: SERIF, fontSize: 24, color: GRAY, backgroundColor: '#fff', padding: [0, 2] },
      { sub: { fontFamily: SERIF, fontSize: 17, fontStyle: 'italic', color: GRAY, padding: [10, 0, 0, 0] } }, 9),
    labels(isoLabelsNR, { fontFamily: SERIF, fontSize: 24, color: GRAY },
      { sub: { fontFamily: SERIF, fontSize: 17, fontStyle: 'italic', color: GRAY, padding: [10, 0, 0, 0] } }, 9),
    labels(notes.filter(n => n.style === 'plain'), { fontFamily: SERIF, fontSize: 32, color: '#000' },
      { sup: { fontFamily: SERIF, fontSize: 21, color: '#000', padding: [0, 0, 14, 0] } }, 10),
    labels(notes.filter(n => n.style === 'it'), { fontFamily: SERIF, fontSize: 31, color: '#000', fontStyle: 'italic' }, {}, 10)
  ]
};

const chart = echarts.init(document.getElementById('chart'));
chart.setOption(option);

// curved annotation arrows placed in data space
const px = v => chart.convertToPixel({ xAxisIndex: 0, yAxisIndex: 0 }, v);
const graphics = [];
arrows.forEach(a => {
  const p = a.path.map(px);
  graphics.push({
    type: 'bezierCurve', z: 20, silent: true,
    shape: { x1: p[0][0], y1: p[0][1], cpx1: p[1][0], cpy1: p[1][1], cpx2: p[2][0], cpy2: p[2][1], x2: p[3][0], y2: p[3][1] },
    style: { stroke: '#000', lineWidth: 6, fill: null, lineCap: 'round',
      shadowBlur: 6, shadowColor: 'rgba(0,0,0,0.35)', shadowOffsetX: 3, shadowOffsetY: 3 }
  });
  graphics.push({
    type: 'polygon', z: 20, silent: true,
    shape: { points: a.head.map(px) },
    style: { fill: '#000', shadowBlur: 6, shadowColor: 'rgba(0,0,0,0.35)', shadowOffsetX: 3, shadowOffsetY: 3 }
  });
});
chart.setOption({ graphic: graphics });
</script>
</body>
</html>
